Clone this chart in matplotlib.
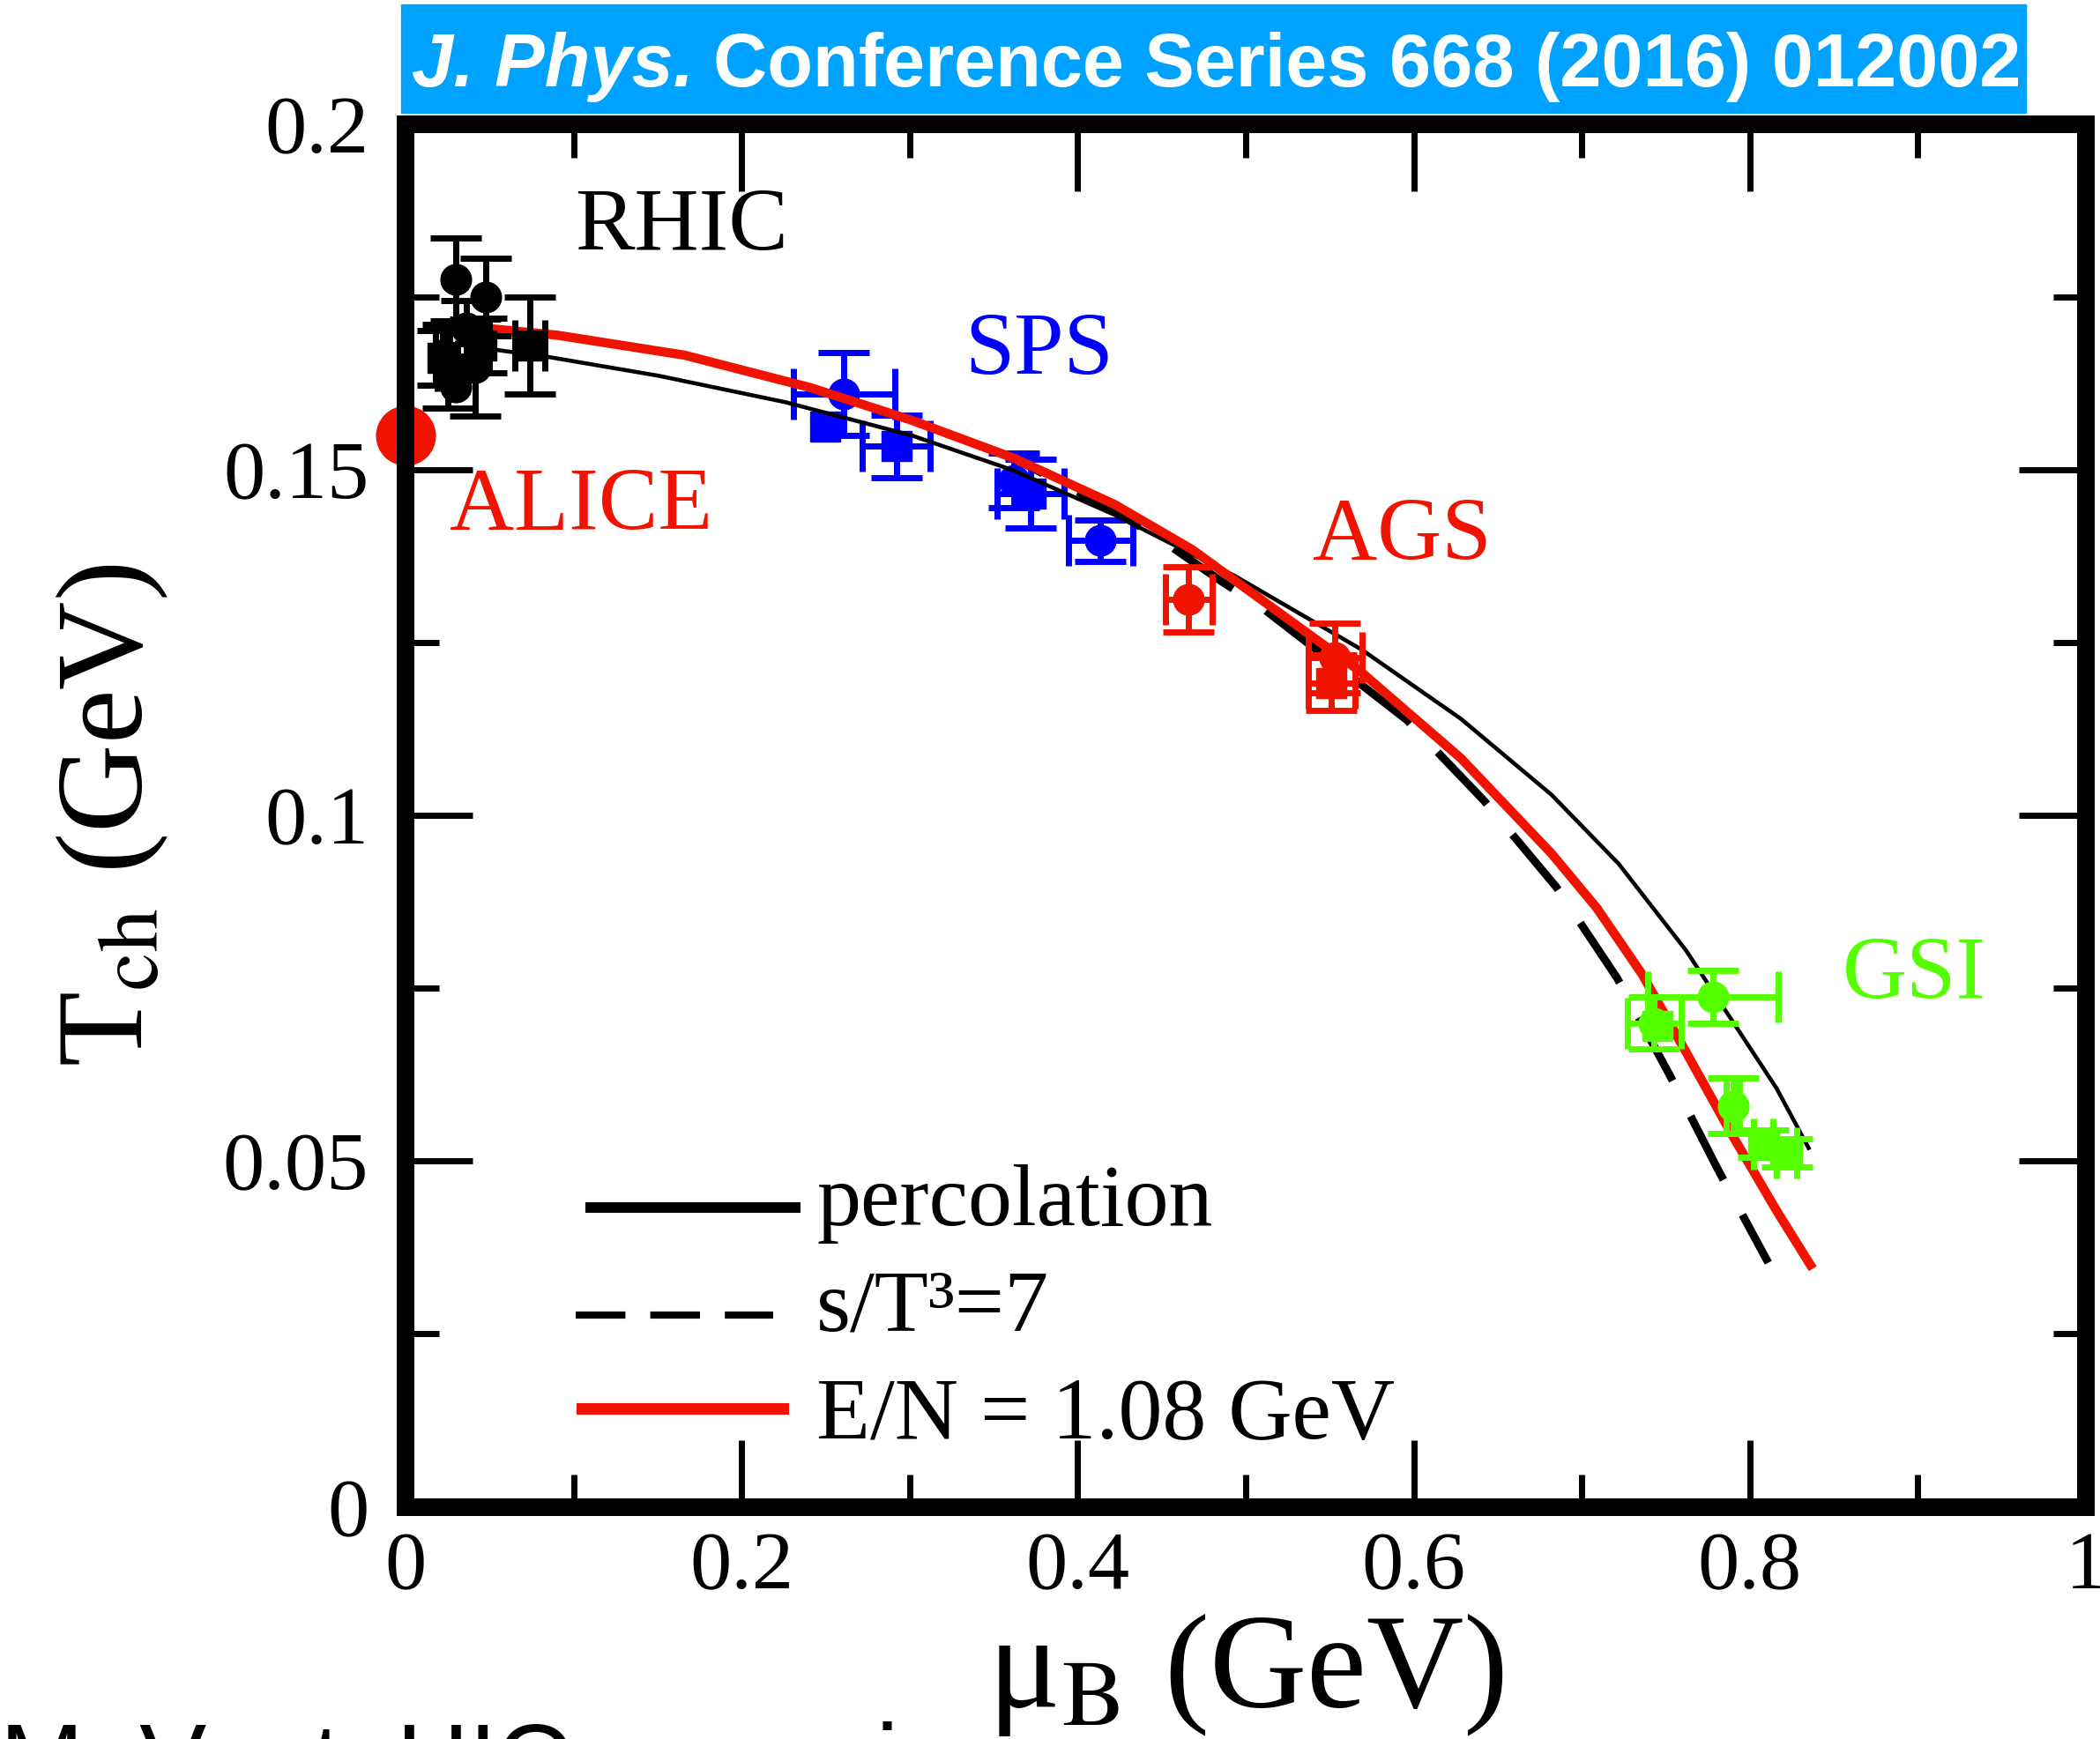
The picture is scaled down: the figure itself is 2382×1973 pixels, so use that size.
import numpy as np
import matplotlib
matplotlib.use('Agg')
import matplotlib.pyplot as plt
from matplotlib.patches import Rectangle
from matplotlib.lines import Line2D

plt.rcParams['font.family'] = ['Liberation Serif', 'DejaVu Serif']
plt.rcParams['mathtext.fontset'] = 'stix'

# --- data ------------------------------------------------------- #
# curves: mu_B (GeV) vs T_ch (GeV)
perc_mu = [0.020, 0.086, 0.151, 0.226, 0.301, 0.361, 0.422, 0.494,
           0.569, 0.628, 0.682, 0.722, 0.762, 0.789, 0.816, 0.835]
perc_T = [0.1685, 0.1663, 0.1636, 0.1598, 0.1550, 0.1500, 0.1435, 0.1346,
          0.1240, 0.1140, 0.1030, 0.0930, 0.0805, 0.0705, 0.0605, 0.0519]

sT3_mu = [0.018, 0.090, 0.166, 0.241, 0.301, 0.362, 0.422, 0.446, 0.486,
          0.508, 0.596, 0.642, 0.685, 0.721, 0.752, 0.781, 0.811]
sT3_T = [0.1712, 0.1695, 0.1666, 0.1619, 0.1572, 0.1517, 0.1440, 0.1405, 0.1338,
         0.1304, 0.1138, 0.1021, 0.0896, 0.0765, 0.0626, 0.0488, 0.0353]

EN_mu = [0.018, 0.090, 0.166, 0.241, 0.301, 0.362, 0.422, 0.468, 0.569,
         0.628, 0.682, 0.709, 0.736, 0.762, 0.789, 0.816, 0.836]
EN_T = [0.1712, 0.1695, 0.1666, 0.1619, 0.1572, 0.1517, 0.1450, 0.1385, 0.1207,
        0.1083, 0.0945, 0.0866, 0.0770, 0.0658, 0.0540, 0.0428, 0.0350]

# freeze-out points (sq = square symbol, otherwise circle)
rhic_mu = [0.030, 0.048, 0.074, 0.025, 0.0415, 0.036, 0.045, 0.022, 0.030]
rhic_T = [0.1776, 0.1750, 0.1680, 0.1650, 0.1648, 0.1705, 0.1680, 0.1662, 0.1620]
rhic_dmu = [0.0, 0.0, 0.009, 0.006, 0.0, 0.0, 0.005, 0.004, 0.0]
rhic_dT = [0.006, 0.0056, 0.007, 0.006, 0.007, 0.004, 0.004, 0.004, 0.0]
rhic_sq = [0, 0, 1, 0, 0, 0, 1, 1, 0]

sps_mu = [0.261, 0.250, 0.292, 0.372, 0.362, 0.4136]
sps_T = [0.1610, 0.1563, 0.1534, 0.1466, 0.1485, 0.1398]
sps_dmu = [0.030, 0.0, 0.020, 0.020, 0.0, 0.019]
sps_dT = [0.006, 0.0, 0.0045, 0.005, 0.004, 0.003]
sps_sq = [0, 1, 1, 1, 0, 0]

ags_mu = [0.466, 0.553, 0.551]
ags_T = [0.1313, 0.1228, 0.1192]
ags_dmu = [0.014, 0.016, 0.014]
ags_dT = [0.0047, 0.005, 0.004]
ags_sq = [0, 0, 1]

gsi_mu = [0.743, 0.745, 0.778, 0.790, 0.808, 0.822]
gsi_T = [0.0700, 0.0695, 0.0738, 0.0580, 0.0525, 0.0512]
gsi_dmu = [0.016, 0.0, 0.039, 0.004, 0.006, 0.006]
gsi_dT = [0.0038, 0.0, 0.0038, 0.004, 0.002, 0.002]
gsi_sq = [0, 1, 0, 0, 1, 1]

alice_mu = [0.0]
alice_T = [0.155]

# group labels and where they sit
group_names = ['RHIC', 'SPS', 'ALICE', 'AGS', 'GSI']
group_label_mu = [0.101, 0.333, 0.026, 0.540, 0.855]
group_label_T = [0.1818, 0.1638, 0.1413, 0.1370, 0.0735]

legend_labels = ['percolation', 's/T³=7', 'E/N = 1.08 GeV']

xticks = [0, 0.2, 0.4, 0.6, 0.8, 1.0]
xticklabels = ['0', '0.2', '0.4', '0.6', '0.8', '1']
yticks = [0, 0.05, 0.1, 0.15, 0.2]
yticklabels = ['0', '0.05', '0.1', '0.15', '0.2']

# --- colours ------------------------------------------------------ #
RED = '#f01400'
BLUE = '#0000ff'
GREEN = '#55ff00'
group_colors = ['black', BLUE, RED, RED, GREEN]

# --- figure ------------------------------------------------------- #
W, H = 2382, 1973
fig = plt.figure(figsize=(W / 100, H / 100), dpi=100)
ax = fig.add_axes([0.19311, 0.13355, 0.80017, 0.79498])
ax.set_xlim(0, 1)
ax.set_ylim(0, 0.2)

for s in ax.spines.values():
    s.set_linewidth(14.4)
    s.set_zorder(10)

ax.set_xticks(xticks)
ax.set_xticklabels(xticklabels)
ax.set_yticks(yticks)
ax.set_yticklabels(yticklabels)
ax.set_xticks(np.arange(0.1, 1.0, 0.2), minor=True)
ax.set_yticks(np.arange(0.025, 0.2, 0.05), minor=True)
ax.tick_params(which='both', direction='in', top=True, right=True,
               width=5, color='black')
ax.tick_params(which='major', length=55)
ax.tick_params(which='minor', length=27)
ax.tick_params(axis='x', labelsize=68, pad=20)
ax.tick_params(axis='y', labelsize=68, pad=30)

# curves
ax.plot(perc_mu, perc_T, color='black', lw=3.3, zorder=3)
ax.plot(sT3_mu, sT3_T, color='black', lw=6.5, ls=(0, (9, 5)), zorder=3)
ax.plot(EN_mu, EN_T, color=RED, lw=7.5, zorder=3.1)


def draw_group(mu, T, dmu, dT, sq, color, z):
    for i in range(len(mu)):
        m = 's' if sq[i] else 'o'
        ax.errorbar(mu[i], T[i], xerr=dmu[i] or None, yerr=dT[i] or None,
                    fmt=m, color=color, ms=25, elinewidth=5, capsize=21,
                    capthick=5, zorder=z)


draw_group(sps_mu, sps_T, sps_dmu, sps_dT, sps_sq, BLUE, 2)
draw_group(rhic_mu, rhic_T, rhic_dmu, rhic_dT, rhic_sq, 'black', 4)
draw_group(ags_mu, ags_T, ags_dmu, ags_dT, ags_sq, RED, 4)
draw_group(gsi_mu, gsi_T, gsi_dmu, gsi_dT, gsi_sq, GREEN, 4)

ax.plot(alice_mu, alice_T, 'o', color=RED, ms=48, clip_on=False, zorder=9)

for name, x, y, c in zip(group_names, group_label_mu, group_label_T, group_colors):
    ax.text(x, y, name, color=c, fontsize=73, ha='left', va='baseline')

# legend drawn by hand (keys are thicker than the curves)
key_styles = [dict(color='black', lw=8.6, ls='-'),
              dict(color='black', lw=5.8, ls=(0, (7, 3.5))),
              dict(color=RED, lw=9.4, ls='-')]
key_x = [(0.1102, 0.2319), (0.1013, 0.2188), (0.1049, 0.2246)]
key_y = [0.2165, 0.1387, 0.0711]
text_y = [0.2037, 0.1272, 0.0494]
for lab, st, kx, ky, ty in zip(legend_labels, key_styles, key_x, key_y, text_y):
    ax.add_line(Line2D(kx, [ky, ky], transform=ax.transAxes, **st))
    ax.text(0.2445, ty, lab, transform=ax.transAxes, fontsize=72,
            ha='left', va='baseline')

ax.set_xlabel('μ$_{\\rm B}$ (GeV)', fontsize=110, va='baseline')
ax.xaxis.set_label_coords(0.5, -0.145)
ax.set_ylabel('T$_{\\rm ch}$ (GeV)', fontsize=100)
ax.yaxis.set_label_coords(-0.14, 0.5)

# journal banner
fig.patches.append(Rectangle((455 / W, 1 - 128 / H), 1843 / W, 123 / H,
                             transform=fig.transFigure, color='#00a2ff',
                             zorder=0))
yb = 1 - 98 / H
t1 = fig.text(467 / W, yb, 'J. Phys.', color='white', fontsize=61,
              family='Liberation Sans', style='italic', weight='bold',
              va='baseline')
fig.canvas.draw()
bb = t1.get_window_extent()
fig.text((bb.x1 + 22) / W, yb, 'Conference Series 668 (2016) 012002',
         color='white', fontsize=61, family='Liberation Sans', weight='bold',
         va='baseline')

# slide text cut off at the bottom
fig.text(0.0, -0.0312, 'M. Vent, HIO users i', color='black', fontsize=82,
         family='Liberation Sans', va='baseline')

fig.savefig('out.png', dpi=100)
